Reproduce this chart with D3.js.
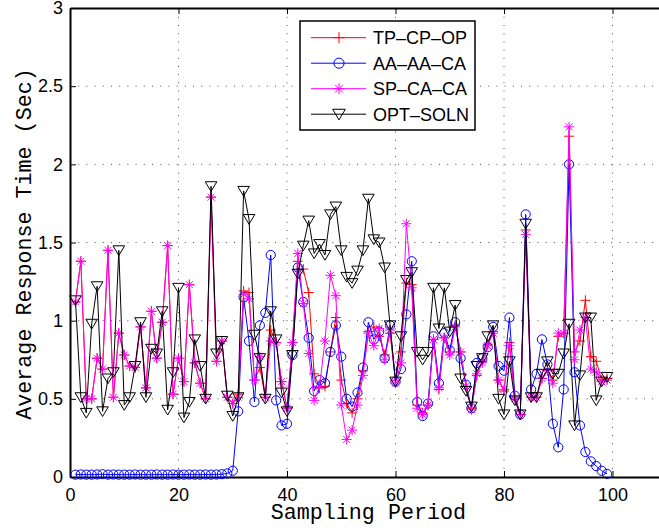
<!DOCTYPE html>
<html lang="en">
<head>
<meta charset="UTF-8">
<title>Average Response Time</title>
<script src="https://cdn.jsdelivr.net/npm/d3@7"></script>
<style>
  body { margin: 0; background: #fff; }
  svg text { fill: #000; }
</style>
</head>
<body>
<script>
// sampling periods 1..99
var periods = d3.range(1, 100);

var tpcpop = [1.12,1.38,0.50,0.50,0.76,0.69,1.45,0.51,0.92,0.78,
              0.71,0.70,0.96,0.57,1.06,0.76,0.99,1.48,0.53,0.76,
              0.61,1.23,0.73,0.60,0.50,1.79,0.74,0.87,0.51,0.47,
              0.53,1.19,1.18,0.62,0.70,0.51,0.94,0.86,0.61,0.44,
              0.86,1.38,1.33,1.18,0.66,0.57,0.58,0.80,1.02,0.62,
              0.47,0.41,0.50,0.68,0.93,0.96,0.90,0.78,0.92,0.62,
              0.80,1.24,1.23,0.46,0.41,0.46,0.88,0.56,0.89,0.80,
              0.97,0.80,0.58,0.44,0.65,0.74,0.85,0.93,0.62,0.55,
              0.86,0.51,0.40,1.58,0.51,0.51,0.63,0.68,0.62,0.90,
              0.92,2.18,0.80,0.87,1.13,0.77,0.74,0.62,0.63];

var aaaaca = [0.015,0.016,0.015,0.015,0.016,0.018,0.015,0.016,0.015,0.015,
              0.015,0.016,0.015,0.015,0.015,0.016,0.015,0.015,0.016,0.015,
              0.015,0.016,0.015,0.015,0.016,0.015,0.016,0.018,0.023,0.04,
              0.42,1.15,0.87,0.48,0.97,1.05,1.42,0.49,0.33,0.34,
              0.78,1.34,1.12,0.89,0.55,0.62,0.60,0.80,0.97,0.77,
              0.50,0.45,0.54,0.70,0.99,0.88,0.93,0.76,0.97,0.61,
              0.69,1.04,1.38,0.48,0.39,0.47,0.90,0.60,0.92,0.81,
              0.99,0.76,0.59,0.44,0.73,0.76,0.83,0.96,0.71,0.68,
              1.02,0.52,0.40,1.68,0.56,0.66,0.88,0.72,0.34,0.19,
              0.56,2.00,0.67,0.33,0.16,0.10,0.07,0.04,0.02];

var spcaca = [1.12,1.38,0.50,0.50,0.76,0.69,1.45,0.51,0.92,0.78,
              0.71,0.70,0.96,0.57,1.06,0.76,0.99,1.48,0.53,0.76,
              0.61,1.23,0.73,0.60,0.50,1.79,0.74,0.87,0.51,0.47,
              0.51,1.17,1.14,0.62,0.77,0.51,0.87,0.86,0.61,0.44,
              0.86,1.43,1.11,0.79,0.49,0.58,0.87,1.29,1.16,0.46,
              0.24,0.30,0.46,0.65,0.92,0.84,0.95,0.75,0.94,0.60,
              0.73,1.62,1.21,0.44,0.40,0.46,0.88,0.57,0.89,0.78,
              0.96,0.80,0.58,0.43,0.66,0.73,0.84,0.92,0.62,0.56,
              0.84,0.50,0.40,1.55,0.51,0.51,0.63,0.68,0.60,0.92,
              0.92,2.24,0.75,0.94,1.02,0.69,0.67,0.61,0.62];

var optsoln = [1.13,0.51,0.41,0.98,1.22,0.42,0.63,0.67,1.45,0.46,
               0.51,0.71,0.99,0.51,0.82,0.79,1.06,0.43,0.67,1.21,
               0.38,0.48,0.88,0.71,0.50,1.86,0.79,0.87,0.52,0.39,
               0.51,1.83,1.65,0.91,0.76,0.50,1.06,0.88,0.54,0.42,
               0.78,1.30,1.48,1.64,1.43,1.49,1.42,1.68,1.73,1.45,
               1.28,1.24,1.32,1.45,1.78,1.52,1.50,1.34,0.97,0.61,
               0.90,1.26,1.31,0.80,0.75,0.80,1.21,0.95,1.21,0.93,
               1.10,0.63,0.55,0.45,0.71,0.76,0.90,0.97,0.50,0.40,
               0.74,0.49,0.40,1.62,0.51,0.51,0.66,0.74,0.66,0.66,
               0.79,0.98,0.33,0.65,1.02,1.02,0.49,0.61,0.64];

var seriesNames = ["TP\u2013CP\u2013OP", "AA\u2013AA\u2013CA", "SP\u2013CA\u2013CA", "OPT\u2013SOLN"];
var xTicks = [0, 20, 40, 60, 80, 100];
var yTicks = [0, 0.5, 1, 1.5, 2, 2.5, 3];

var W = 659, H = 531;
var plotLeft = 70, plotTop = 8, plotBottom = 477;

var x = d3.scaleLinear().domain([0, 110]).range([plotLeft, plotLeft + 110 * 5.425]);
var y = d3.scaleLinear().domain([0, 3]).range([plotBottom, plotTop]);

var svg = d3.select("body").append("svg")
    .attr("width", W)
    .attr("height", H);

// dotted grid
var grid = svg.append("g")
    .attr("stroke", "#555")
    .attr("stroke-width", 1)
    .attr("stroke-dasharray", "1,7.2");
grid.selectAll("line.v").data(xTicks.slice(1)).enter().append("line")
    .attr("x1", d => x(d)).attr("x2", d => x(d))
    .attr("y1", plotBottom).attr("y2", plotTop);
grid.selectAll("line.h").data(yTicks.slice(1, -1)).enter().append("line")
    .attr("y1", d => y(d)).attr("y2", d => y(d))
    .attr("x1", plotLeft).attr("x2", x(110));

// axes (inside ticks, box style)
var xAxis = svg.append("g")
    .attr("transform", "translate(0," + plotBottom + ")")
    .call(d3.axisBottom(x).tickValues(xTicks).tickSizeInner(-6).tickSizeOuter(0).tickPadding(11));
var xTop = svg.append("g")
    .attr("transform", "translate(0," + plotTop + ")")
    .call(d3.axisTop(x).tickValues(xTicks).tickSizeInner(-6).tickSizeOuter(0).tickFormat(""));
var yAxis = svg.append("g")
    .attr("transform", "translate(" + plotLeft + ",0)")
    .call(d3.axisLeft(y).tickValues(yTicks).tickSizeInner(-6).tickSizeOuter(0).tickPadding(7)
        .tickFormat(d => String(d)));

[xAxis, xTop, yAxis].forEach(function (g) {
    g.select(".domain").attr("stroke", "#000").attr("stroke-width", 2);
    g.selectAll(".tick line").attr("stroke", "#000").attr("stroke-width", 1);
    g.selectAll(".tick text")
        .attr("font-family", "'Liberation Sans', Arial, sans-serif")
        .attr("font-size", 18)
        .attr("fill", "#000");
});

// axis labels
svg.append("text")
    .attr("x", (plotLeft + x(110)) / 2)
    .attr("y", 519)
    .attr("text-anchor", "middle")
    .attr("font-family", "'Liberation Mono', 'Courier New', monospace")
    .attr("font-size", 21.7)
    .attr("fill", "#222")
    .text("Sampling Period");

svg.append("text")
    .attr("transform", "translate(31,244) rotate(-90)")
    .attr("text-anchor", "middle")
    .attr("font-family", "'Liberation Mono', 'Courier New', monospace")
    .attr("font-size", 21.7)
    .attr("fill", "#222")
    .text("Average Response Time (Sec)");

// marker shapes
function markerPath(kind, k) {
    k = k || 1;
    var a = 5 * k, b = 3.5 * k, r = 4.6 * k;
    if (kind === "plus") return "M" + (-a) + ",0H" + a + "M0," + (-a) + "V" + a;
    if (kind === "circle") return "M" + r + ",0A" + r + "," + r + " 0 1,1 " + (-r) + ",0A" + r + "," + r + " 0 1,1 " + r + ",0Z";
    if (kind === "star") return "M" + (-a) + ",0H" + a + "M0," + (-a) + "V" + a +
        "M" + (-b) + "," + (-b) + "L" + b + "," + b + "M" + (-b) + "," + b + "L" + b + "," + (-b);
    return "M" + (-5.8 * k) + "," + (-4.5 * k) + "H" + (5.8 * k) + "L0," + (5.2 * k) + "Z";
}

var series = [
    { name: seriesNames[0], values: tpcpop, color: "#ff0000", marker: "plus" },
    { name: seriesNames[1], values: aaaaca, color: "#0000ff", marker: "circle" },
    { name: seriesNames[2], values: spcaca, color: "#ff00ff", marker: "star" },
    { name: seriesNames[3], values: optsoln, color: "#000000", marker: "tri" }
];

var line = d3.line()
    .x(d => x(d[0]))
    .y(d => y(d[1]));

series.forEach(function (s) {
    var pts = periods.map((p, i) => [p, s.values[i]]);
    var g = svg.append("g");
    g.append("path")
        .datum(pts)
        .attr("d", line)
        .attr("fill", "none")
        .attr("stroke", s.color)
        .attr("stroke-width", 1);
    g.selectAll("path.m").data(pts).enter().append("path")
        .attr("class", "m")
        .attr("transform", d => "translate(" + x(d[0]) + "," + y(d[1]) + ")")
        .attr("d", markerPath(s.marker))
        .attr("fill", "none")
        .attr("stroke", s.color)
        .attr("stroke-width", 1);
});

// legend
var lg = svg.append("g");
lg.append("rect")
    .attr("x", 300).attr("y", 21)
    .attr("width", 175).attr("height", 109)
    .attr("fill", "#fff")
    .attr("stroke", "#000")
    .attr("stroke-width", 1.5);

series.forEach(function (s, i) {
    var ly = 37.7 + i * 25.5;
    lg.append("line")
        .attr("x1", 311).attr("x2", 366)
        .attr("y1", ly).attr("y2", ly)
        .attr("stroke", s.color).attr("stroke-width", 1);
    lg.append("path")
        .attr("transform", "translate(339," + ly + ")")
        .attr("d", markerPath(s.marker, 1.1))
        .attr("fill", "none")
        .attr("stroke", s.color)
        .attr("stroke-width", 1);
    lg.append("text")
        .attr("x", 373).attr("y", ly)
        .attr("dy", "0.36em")
        .attr("font-family", "'Liberation Sans', Arial, sans-serif")
        .attr("font-size", 18)
        .attr("fill", "#000")
        .text(s.name);
});
</script>
</body>
</html>
